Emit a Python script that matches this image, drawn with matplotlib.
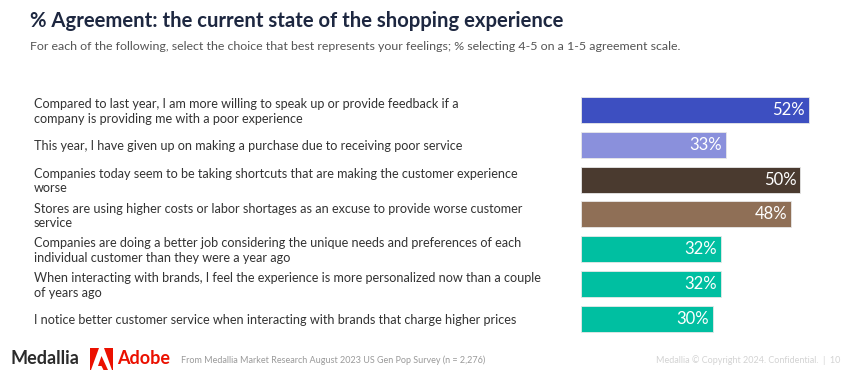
"""Recreate the '% Agreement' horizontal bar slide as out.png."""

import matplotlib

matplotlib.use("Agg")

import matplotlib.pyplot as plt
from matplotlib.patches import Polygon

# Survey statements (top to bottom) and % selecting 4-5.
statements = [
    "Compared to last year, I am more willing to speak up or provide feedback if a\n"
    "company is providing me with a poor experience",
    "This year, I have given up on making a purchase due to receiving poor service",
    "Companies today seem to be taking shortcuts that are making the customer experience\n"
    "worse",
    "Stores are using higher costs or labor shortages as an excuse to provide worse customer\n"
    "service",
    "Companies are doing a better job considering the unique needs and preferences of each\n"
    "individual customer than they were a year ago",
    "When interacting with brands, I feel the experience is more personalized now than a couple\n"
    "of years ago",
    "I notice better customer service when interacting with brands that charge higher prices",
]
agree_pct = [52, 33, 50, 48, 32, 32, 30]
bar_colors = ["#3d4fc1", "#8a90dc", "#4a3a2f", "#8f6f56", "#00bfa1", "#00bfa1", "#00bfa1"]

TITLE = "% Agreement: the current state of the shopping experience"
SUBTITLE = ("For each of the following, select the choice that best represents your feelings; "
            "% selecting 4-5 on a 1-5 agreement scale.")
SOURCE = "From Medallia Market Research August 2023 US Gen Pop Survey (n = 2,276)"
COPYRIGHT = "Medallia \u00a9 Copyright 2024. Confidential.  |  10"

plt.rcParams["font.family"] = ["Lato", "DejaVu Sans"]

W, H = 863, 379
fig = plt.figure(figsize=(W / 100, H / 100), dpi=100)

# Axes placed in pixel terms: zero line at x=581, bar centres at y=110 .. 319.
left, right = 581, 863
top, bottom = 92.6, 336.2
ax = fig.add_axes([left / W, 1 - bottom / H, (right - left) / W, (bottom - top) / H])
px_per_pct = 4.385
ax.set_xlim(0, (right - left) / px_per_pct)
ax.set_ylim(len(agree_pct) - 0.5, -0.5)
ax.axis("off")

ypos = list(range(len(agree_pct)))
ax.barh(ypos, agree_pct, height=0.75, color=bar_colors, edgecolor="#e8e8e8", linewidth=0.6)
for y, v in zip(ypos, agree_pct):
    ax.text(v - 0.9, y, f"{v}%", ha="right", va="center", color="white", fontsize=12)

# Statement labels, left aligned at x=34px, vertically on each bar.
trans = matplotlib.transforms.blended_transform_factory(fig.transFigure, ax.transData)
for y, s in zip(ypos, statements):
    ax.text(34 / W, y + 0.04, s, transform=trans, ha="left", va="center",
            fontsize=9.1, color="#333333", linespacing=1.25)

fig.text(30 / W, 1 - 21 / H, TITLE, ha="left", va="center",
         fontsize=14.6, fontweight="bold", color="#1d2740")
fig.text(30 / W, 1 - 46 / H, SUBTITLE, ha="left", va="center", fontsize=8.95, color="#555555")

# Footer: wordmarks, source and copyright.
fig.text(10 / W, 1 - 359 / H, "Medallia", ha="left", va="center",
         fontsize=13, fontweight="bold", color="#2b2b2b")
logo = [
    Polygon([(90, 348), (99, 348), (91, 370), (90, 370)], closed=True),
    Polygon([(104, 348), (113, 348), (113, 370), (112, 370)], closed=True),
    Polygon([(101.5, 356), (108, 370), (103.5, 370), (101.5, 366), (98, 366)], closed=True),
]
for p in logo:
    xy = p.get_xy()
    p.set_xy([(x / W, 1 - y / H) for x, y in xy])
    p.set_transform(fig.transFigure)
    p.set_facecolor("#eb1000")
    p.set_edgecolor("none")
    fig.patches.append(p)
fig.text(117 / W, 1 - 359 / H, "Adobe", ha="left", va="center",
         fontsize=13, fontweight="bold", color="#eb1000")
fig.text(181 / W, 1 - 360 / H, SOURCE, ha="left", va="center", fontsize=6.5, color="#9a9a9a")
fig.text(840 / W, 1 - 360 / H, COPYRIGHT, ha="right", va="center", fontsize=6.5, color="#d3d3d3")

fig.savefig("out.png", dpi=100)
